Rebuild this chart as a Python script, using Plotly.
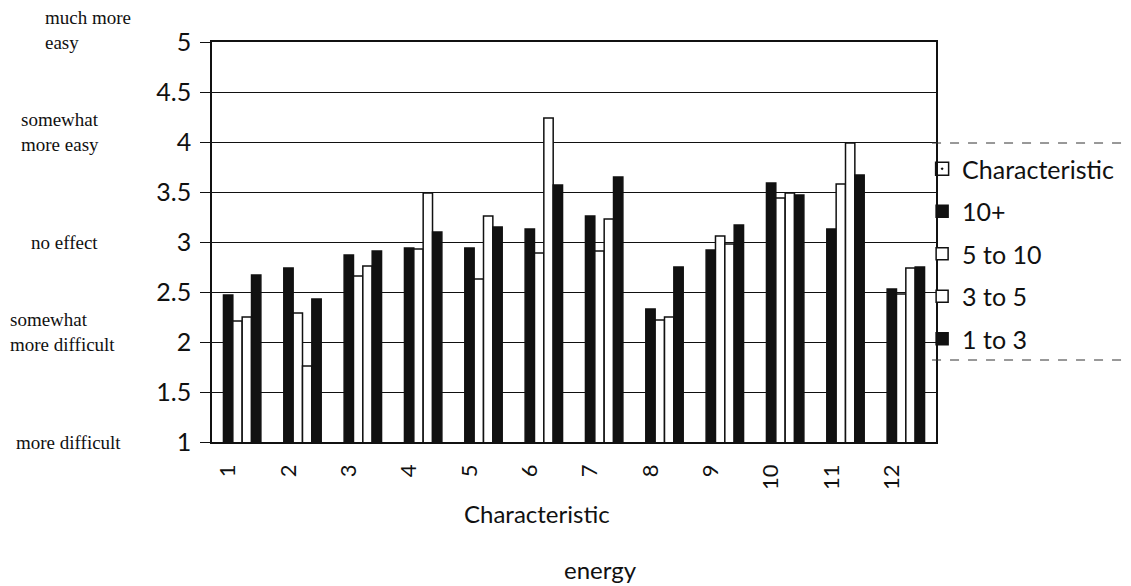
import plotly.graph_objects as go

categories = ["1", "2", "3", "4", "5", "6", "7", "8", "9", "10", "11", "12"]
series_names = ["10+", "5 to 10", "3 to 5", "1 to 3"]
s_10plus = [2.47, 2.74, 2.87, 2.94, 2.94, 3.13, 3.26, 2.33, 2.92, 3.59, 3.13, 2.53]
s_5to10 = [2.21, 2.29, 2.66, 2.93, 2.63, 2.89, 2.91, 2.22, 3.06, 3.44, 3.58, 2.48]
s_3to5 = [2.25, 1.76, 2.76, 3.49, 3.26, 4.24, 3.23, 2.25, 2.98, 3.49, 3.99, 2.74]
s_1to3 = [2.67, 2.43, 2.91, 3.10, 3.15, 3.57, 3.65, 2.75, 3.17, 3.47, 3.67, 2.75]
series_values = [s_10plus, s_5to10, s_3to5, s_1to3]
series_colors = ["#111111", "#ffffff", "#ffffff", "#111111"]

y_ticks = [1, 1.5, 2, 2.5, 3, 3.5, 4, 4.5, 5]
y_tick_text = ["1", "1.5", "2", "2.5", "3", "3.5", "4", "4.5", "5"]
scale_labels = ["much more<br>easy", "somewhat<br>more easy", "no effect",
                "somewhat<br>more difficult", "more difficult"]
scale_label_ypx = [30, 132, 242, 332, 442]
scale_label_px = [42, 17, 27, 6, 12]

W, H = 1131, 586
L, R, T, B = 212, 189, 42, 144
pw = W - L - R
ph = H - T - B


def px_to_paper_x(px):
    return (px - L) / pw


def px_to_paper_y(py):
    return 1 - (py - T) / ph


fig = go.Figure()

# legend header entry
fig.add_trace(go.Scatter(
    x=[None], y=[None], mode="markers", name="Characteristic",
    marker=dict(symbol="square-open-dot", size=13, color="#111111",
                line=dict(width=1.5, color="#111111")),
    legendgroup="g0", showlegend=True))

for i, (name, vals, col) in enumerate(zip(series_names, series_values, series_colors)):
    fig.add_trace(go.Bar(
        x=categories, y=vals, name=name,
        marker=dict(color=col, line=dict(color="#111111", width=1.5)),
        legendgroup="g%d" % (i + 1)))

for txt, ypx, px in zip(scale_labels, scale_label_ypx, scale_label_px):
    fig.add_annotation(
        text=txt, xref="paper", yref="paper",
        x=px_to_paper_x(px), y=px_to_paper_y(ypx),
        xanchor="left", yanchor="middle", align="left", showarrow=False,
        font=dict(family="Liberation Serif", size=19, color="#111111"))

fig.add_annotation(
    text="Characteristic", xref="paper", yref="paper",
    x=px_to_paper_x(540), y=px_to_paper_y(513),
    xanchor="center", yanchor="middle", showarrow=False,
    font=dict(family="Lato", size=24, color="#111111"))

fig.add_annotation(
    text="energy", xref="paper", yref="paper",
    x=px_to_paper_x(604), y=px_to_paper_y(569),
    xanchor="center", yanchor="middle", showarrow=False,
    font=dict(family="Lato", size=24, color="#111111"))

# dashed rules above and below legend
for ypx in [143, 360]:
    yp = px_to_paper_y(ypx)
    fig.add_shape(type="line", xref="paper", yref="paper",
                  x0=px_to_paper_x(938), x1=px_to_paper_x(1129), y0=yp, y1=yp,
                  line=dict(color="#333333", width=1, dash="dash"))

fig.update_layout(
    width=W, height=H,
    margin=dict(l=L, r=R, t=T, b=B),
    paper_bgcolor="white", plot_bgcolor="white",
    barmode="group", bargap=0.38, bargroupgap=0,
    font=dict(family="Lato", color="#111111"),
    showlegend=True,
    legend=dict(x=px_to_paper_x(928), y=px_to_paper_y(146),
                xanchor="left", yanchor="top",
                font=dict(family="Lato", size=25, color="#111111"),
                tracegroupgap=7, itemwidth=30, bgcolor="rgba(0,0,0,0)"),
    xaxis=dict(
        type="category", tickangle=-90, showgrid=False,
        showline=True, linecolor="#111111", linewidth=1.5, mirror=True,
        ticks="", ticklabelshift=-14, ticklabelstandoff=12,
        tickfont=dict(family="Lato", size=22, color="#111111")),
    yaxis=dict(
        range=[1, 5], tickvals=y_ticks, ticktext=y_tick_text,
        showgrid=True, gridcolor="#111111", gridwidth=1,
        showline=True, linecolor="#111111", linewidth=1.5, mirror=True,
        ticks="outside", ticklen=10, tickcolor="#111111",
        ticklabelstandoff=4,
        tickfont=dict(family="Lato", size=25, color="#111111"),
        zeroline=False),
)

fig.write_html("out.html")
